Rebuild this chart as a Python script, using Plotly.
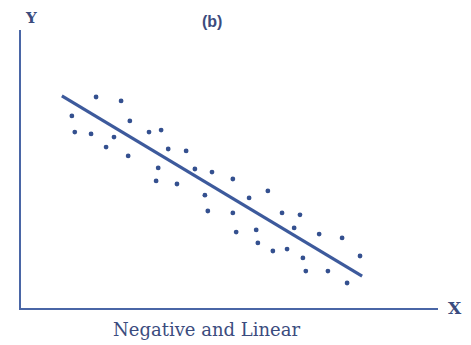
import plotly.graph_objects as go

# Scatter values (arbitrary 0-100 units)
x_vals = [18.0, 24.0, 12.2, 26.1, 12.9, 16.8, 22.3, 30.7, 33.6, 20.4,
          25.7, 35.3, 39.6, 32.9, 32.4, 37.4, 41.7, 45.8, 50.8, 44.1,
          54.7, 44.8, 50.8, 51.6, 56.4, 56.8, 59.2, 62.6, 66.9, 65.5,
          71.5, 77.0, 60.4, 63.8, 67.6, 81.3, 68.3, 73.6, 78.2]
y_vals = [75.9, 74.5, 69.1, 67.3, 63.3, 62.6, 61.5, 63.3, 64.0, 57.9,
          54.7, 57.2, 56.5, 50.4, 45.7, 44.6, 50.0, 48.9, 46.4, 40.6,
          39.6, 34.9, 34.2, 27.3, 28.1, 23.4, 42.1, 34.2, 33.5, 28.8,
          26.6, 25.2, 20.5, 21.2, 18.0, 18.7, 13.3, 13.3, 9.0]

# Trend line end points
line_x = [9.8, 81.8]
line_y = [76.3, 11.5]

title_text = "(b)"
x_label = "X"
y_label = "Y"
caption = "Negative and Linear"

blue = "#34508f"
text_col = "#3b4c7e"

fig = go.Figure()
fig.add_trace(go.Scatter(x=line_x, y=line_y, mode="lines",
                         line=dict(color="#3d5a9c", width=3.2),
                         hoverinfo="skip", showlegend=False))
fig.add_trace(go.Scatter(x=x_vals, y=y_vals, mode="markers",
                         marker=dict(color=blue, size=4.8),
                         showlegend=False))


def label(text, x, y, family, size):
    return dict(text=text, xref="paper", yref="paper", x=x, y=y,
                xanchor="center", yanchor="middle", showarrow=False,
                font=dict(family=family, size=size, color=text_col))


fig.update_layout(
    width=463, height=337,
    margin=dict(l=13, r=33, t=22, b=37),
    paper_bgcolor="white", plot_bgcolor="white",
    xaxis=dict(range=[0, 100], showgrid=False, zeroline=False,
               showticklabels=False, ticks="", showline=True,
               linecolor="#4a66a6", linewidth=2.2, fixedrange=True),
    yaxis=dict(range=[0, 100], showgrid=False, zeroline=False,
               showticklabels=False, ticks="", showline=True,
               linecolor="#4a66a6", linewidth=2.2, fixedrange=True),
    annotations=[
        label("<b>" + y_label + "</b>", 0.024, 1.043, "DejaVu Serif", 15),
        label("<b>" + title_text + "</b>", 0.458, 1.029, "Liberation Sans", 16),
        label("<b>" + x_label + "</b>", 1.041, 0.0, "DejaVu Serif", 17),
        label(caption, 0.446, -0.079, "DejaVu Serif", 18),
    ],
)

fig.write_html("out.html")
